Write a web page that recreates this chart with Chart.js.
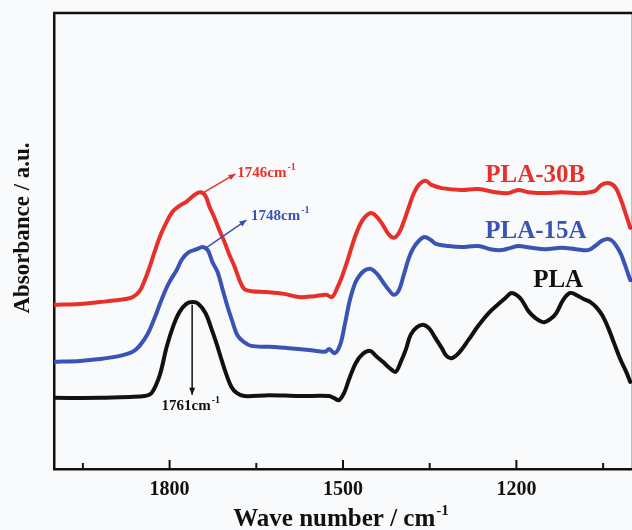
<!DOCTYPE html>
<html>
<head>
<meta charset="utf-8">
<script src="https://cdn.jsdelivr.net/npm/chart.js@4.4.1/dist/chart.umd.min.js"></script>
<style>
  html, body { margin: 0; padding: 0; background: #f9fafc; }
  #wrap { width: 632px; height: 530px; position: relative; }
</style>
</head>
<body>
<div id="wrap"><canvas id="c" width="632" height="530"></canvas></div>
<script>
// ---- Data (wave number in cm^-1, absorbance in arbitrary units) ----
const plaWave = [2000,1921,1869,1843,1831,1817,1805,1793,1783,1771,1760,1750,1738,1728,1719,1710,1702,1693,1684,1671,1628,1576,1524,1516,1507,1498,1490,1478,1466,1453,1443,1431,1419,1409,1400,1391,1383,1372,1360,1350,1340,1329,1321,1312,1300,1283,1266,1248,1231,1219,1209,1200,1191,1179,1167,1153,1141,1131,1119,1107,1097,1084,1072,1062,1052,1041,1031,1021,1010,1003];
const plaAbs  = [15.6,15.6,15.8,16.0,16.7,20.6,26.8,31.6,34.4,36.2,36.6,36.2,34.2,30.9,27.6,23.9,20.8,18.0,16.7,16.0,16.2,16.0,16.0,15.6,15.1,16.7,19.5,23.2,25.2,25.9,24.8,23.5,22.1,21.3,23.5,26.3,29.4,31.1,31.6,30.7,28.7,26.5,24.8,24.3,25.4,28.3,31.4,34.2,36.2,37.5,38.6,38.2,37.1,34.6,33.1,32.2,32.9,34.2,37.1,38.6,38.2,37.3,36.6,35.5,33.8,30.9,27.6,24.3,21.3,19.1];

const pla15aWave = [2000,1955,1921,1886,1864,1852,1838,1826,1814,1802,1788,1778,1766,1753,1743,1734,1726,1717,1709,1700,1691,1683,1672,1659,1628,1593,1559,1531,1524,1514,1505,1497,1488,1479,1471,1462,1452,1441,1431,1421,1412,1403,1395,1386,1378,1369,1359,1348,1338,1317,1295,1266,1245,1226,1210,1197,1174,1150,1122,1097,1076,1064,1053,1045,1036,1028,1019,1012,1003];
const pla15aAbs  = [23.5,23.7,24.1,24.8,25.7,27.0,29.6,33.1,37.1,40.6,43.6,46.1,47.6,48.2,48.7,48.0,45.4,43.2,39.7,35.7,32.2,29.4,27.9,27.0,26.8,26.5,26.1,25.7,26.3,25.4,27.2,31.6,37.1,40.8,42.5,43.6,43.9,42.8,41.0,39.3,38.2,39.3,42.5,46.3,48.5,50.0,50.9,50.2,49.3,48.9,48.7,48.9,48.2,48.0,48.5,48.9,48.5,48.2,48.5,48.2,48.0,48.9,50.0,50.4,50.2,49.1,47.1,44.7,41.4];

const pla30bWave = [2000,1955,1921,1886,1864,1852,1843,1834,1826,1817,1807,1795,1783,1771,1759,1747,1738,1731,1722,1714,1705,1697,1688,1679,1671,1659,1633,1602,1576,1550,1529,1519,1510,1502,1493,1484,1476,1466,1453,1443,1433,1421,1412,1403,1395,1386,1378,1369,1357,1347,1329,1295,1266,1236,1214,1197,1179,1150,1122,1088,1064,1053,1041,1029,1019,1012,1003];
const pla30bAbs  = [36.0,36.2,36.6,37.1,37.7,39.0,41.4,44.5,47.6,50.9,53.7,56.4,57.7,58.6,59.9,60.7,59.9,57.5,55.0,52.4,49.8,47.1,44.5,41.4,39.5,39.0,38.8,38.4,37.7,37.9,38.2,37.7,39.7,42.1,45.4,49.1,52.0,54.6,56.1,55.5,53.9,51.5,50.7,51.8,54.2,57.5,60.3,62.3,63.2,62.3,61.6,61.2,61.4,60.7,60.5,61.2,60.7,60.5,60.7,60.5,61.0,62.3,62.7,61.8,59.0,56.4,52.9];

const xMajorTicks = [1800, 1500, 1200];
const xMinorTicks = [1950, 1650, 1350, 1050];
const xRange = [1000, 2000];
const yRange = [0, 100];

const seriesNames = ['PLA', 'PLA-15A', 'PLA-30B'];
const seriesColors = ['#111111', '#3a54b4', '#e8302a'];

// Series labels: [text, wave, abs] (left/baseline anchors)
const seriesLabels = [
  ['PLA-30B', 1254, 63.0, '#e8302a'],
  ['PLA-15A', 1254, 50.6, '#3a54b4'],
  ['PLA', 1171, 40.0, '#111111']
];
// Peak annotations: [text, fromWave, fromAbs, toWave, toAbs, labelWave, labelAbs, color]
const peakNotes = [
  ['1746', 1743, 60.5, 1686, 64.7, 1683, 64.0, '#e8302a'],
  ['1748', 1740, 48.2, 1667, 54.6, 1659, 54.6, '#3a54b4'],
  ['1761', 1761, 36.0, 1761, 16.3, 1814, 12.9, '#111111']
];

const FONT = '"Liberation Serif", "Times New Roman", serif';

function toXY(w, a) { return w.map((v, i) => ({ x: v, y: a[i] })); }

const datasets = [
  [plaWave, plaAbs], [pla15aWave, pla15aAbs], [pla30bWave, pla30bAbs]
].map((s, i) => ({
  label: seriesNames[i],
  data: toXY(s[0], s[1]),
  borderColor: seriesColors[i],
  borderWidth: 4,
  pointRadius: 0,
  tension: 0.35,
  fill: false,
  borderCapStyle: 'round',
  borderJoinStyle: 'round'
}));

function arrow(ctx, x1, y1, x2, y2, color) {
  ctx.save();
  ctx.strokeStyle = color; ctx.fillStyle = color; ctx.lineWidth = 1.5;
  ctx.beginPath(); ctx.moveTo(x1, y1); ctx.lineTo(x2, y2); ctx.stroke();
  const ang = Math.atan2(y2 - y1, x2 - x1), L = 7, W = 3;
  ctx.beginPath();
  ctx.moveTo(x2, y2);
  ctx.lineTo(x2 - L * Math.cos(ang) + W * Math.sin(ang), y2 - L * Math.sin(ang) - W * Math.cos(ang));
  ctx.lineTo(x2 - L * Math.cos(ang) - W * Math.sin(ang), y2 - L * Math.sin(ang) + W * Math.cos(ang));
  ctx.closePath(); ctx.fill();
  ctx.restore();
}

function supText(ctx, x, y, main, sup, size, supSize, color, align) {
  ctx.save();
  ctx.fillStyle = color;
  ctx.textBaseline = 'alphabetic';
  ctx.font = 'bold ' + size + 'px ' + FONT;
  const w1 = ctx.measureText(main).width;
  ctx.font = 'bold ' + supSize + 'px ' + FONT;
  const w2 = ctx.measureText(sup).width;
  let x0 = x;
  if (align === 'center') x0 = x - (w1 + w2 + 1) / 2;
  ctx.font = 'bold ' + size + 'px ' + FONT;
  ctx.textAlign = 'left';
  ctx.fillText(main, x0, y);
  ctx.font = 'bold ' + supSize + 'px ' + FONT;
  ctx.fillText(sup, x0 + w1 + 1, y - size * 0.45);
  ctx.restore();
}

const decor = {
  id: 'decor',
  afterDraw(chart) {
    const ctx = chart.ctx, xs = chart.scales.x, ys = chart.scales.y, a = chart.chartArea;
    ctx.save();
    // top frame line
    ctx.strokeStyle = '#111'; ctx.lineWidth = 2.5;
    ctx.beginPath(); ctx.moveTo(a.left - 1, a.top); ctx.lineTo(a.right + 2, a.top); ctx.stroke();
    ctx.beginPath(); ctx.moveTo(a.right + 1, a.top); ctx.lineTo(a.right + 1, a.bottom); ctx.stroke();
    // inward ticks
    ctx.lineWidth = 2;
    xMajorTicks.forEach(v => { const px = xs.getPixelForValue(v); ctx.beginPath(); ctx.moveTo(px, a.bottom); ctx.lineTo(px, a.bottom - 9); ctx.stroke(); });
    xMinorTicks.forEach(v => { const px = xs.getPixelForValue(v); ctx.beginPath(); ctx.moveTo(px, a.bottom); ctx.lineTo(px, a.bottom - 6); ctx.stroke(); });
    // axis titles
    ctx.fillStyle = '#111';
    const cx = (a.left + a.right) / 2;
    supText(ctx, cx - 2, 526, 'Wave number / cm', '-1', 25, 15, '#111', 'center');
    ctx.save();
    ctx.translate(29, 228);
    ctx.rotate(-Math.PI / 2);
    ctx.font = 'bold 23px ' + FONT;
    ctx.textAlign = 'center'; ctx.textBaseline = 'alphabetic';
    ctx.fillText('Absorbance / a.u.', 0, 0);
    ctx.restore();
    // series labels
    seriesLabels.forEach(l => {
      ctx.font = 'bold 25px ' + FONT;
      ctx.fillStyle = l[3]; ctx.textAlign = 'left'; ctx.textBaseline = 'alphabetic';
      ctx.fillText(l[0], xs.getPixelForValue(l[1]), ys.getPixelForValue(l[2]));
    });
    // peak notes
    peakNotes.forEach(n => {
      arrow(ctx, xs.getPixelForValue(n[1]), ys.getPixelForValue(n[2]), xs.getPixelForValue(n[3]), ys.getPixelForValue(n[4]), n[7]);
      supText(ctx, xs.getPixelForValue(n[5]), ys.getPixelForValue(n[6]), n[0] + 'cm', '-1', 15, 10, n[7], 'left');
    });
    ctx.restore();
  }
};

new Chart(document.getElementById('c'), {
  type: 'line',
  data: { datasets },
  options: {
    responsive: false,
    animation: false,
    layout: { padding: { top: 13, right: 0, left: 0, bottom: 0 } },
    plugins: { legend: { display: false }, tooltip: { enabled: false } },
    scales: {
      x: {
        type: 'linear', reverse: true, min: xRange[0], max: xRange[1],
        afterBuildTicks(s) { s.ticks = xMajorTicks.map(v => ({ value: v })); },
        afterFit(s) { s.height = 61; },
        grid: { display: false, drawTicks: false },
        border: { display: true, color: '#111', width: 2.5 },
        ticks: { color: '#111', padding: 9, maxRotation: 0, autoSkip: false,
                  callback: v => String(v),
                  font: { family: FONT, size: 20, weight: 'bold' } }
      },
      y: {
        min: yRange[0], max: yRange[1],
        afterFit(s) { s.width = 54; },
        grid: { display: false, drawTicks: false },
        border: { display: true, color: '#111', width: 2.5 },
        ticks: { display: false }
      }
    }
  },
  plugins: [decor]
});
</script>
</body>
</html>
